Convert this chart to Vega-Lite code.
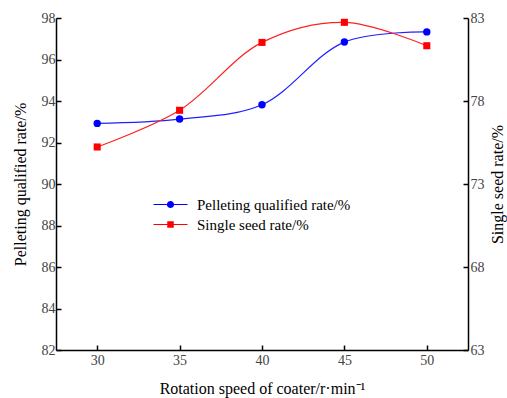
{
  "$schema": "https://vega.github.io/schema/vega-lite/v6.json",
  "width": 412,
  "height": 332,
  "autosize": "none",
  "padding": {"left": 56, "top": 18, "right": 39, "bottom": 48},
  "background": "white",
  "config": {
    "view": {"stroke": null},
    "font": "Liberation Serif",
    "axis": {
      "grid": false,
      "domainColor": "#000000",
      "domainWidth": 1.5,
      "tickColor": "#000000",
      "tickWidth": 1.5,
      "tickSize": -5,
      "labelFont": "Liberation Serif",
      "labelFontSize": 14,
      "labelColor": "#444444",
      "titleFont": "Liberation Serif",
      "titleFontSize": 16,
      "titleFontWeight": "normal",
      "titleColor": "#000000"
    }
  },
  "data": {
    "values": [
      {"speed": 30, "series": "Pelleting qualified rate/%", "rate": 92.92},
      {"speed": 35, "series": "Pelleting qualified rate/%", "rate": 93.13},
      {"speed": 40, "series": "Pelleting qualified rate/%", "rate": 93.82},
      {"speed": 45, "series": "Pelleting qualified rate/%", "rate": 96.84},
      {"speed": 50, "series": "Pelleting qualified rate/%", "rate": 97.33},
      {"speed": 30, "series": "Single seed rate/%", "rate": 75.23},
      {"speed": 35, "series": "Single seed rate/%", "rate": 77.44},
      {"speed": 40, "series": "Single seed rate/%", "rate": 81.53},
      {"speed": 45, "series": "Single seed rate/%", "rate": 82.74},
      {"speed": 50, "series": "Single seed rate/%", "rate": 81.33}
    ]
  },
  "encoding": {
    "x": {
      "field": "speed",
      "type": "quantitative",
      "scale": {"domain": [27.5, 52.5], "nice": false, "zero": false},
      "axis": {
        "values": [30, 35, 40, 45, 50],
        "title": "Rotation speed of coater/r·min⁻¹",
        "labelPadding": 8,
        "titlePadding": 13
      }
    }
  },
  "layer": [
    {
      "transform": [{"filter": "datum.series === 'Pelleting qualified rate/%'"}],
      "encoding": {
        "y": {
          "field": "rate",
          "type": "quantitative",
          "scale": {"domain": [82, 98], "nice": false, "zero": false},
          "axis": {
            "orient": "left",
            "values": [82, 84, 86, 88, 90, 92, 94, 96, 98],
            "title": "Pelleting qualified rate/%",
            "labelPadding": 6,
            "titlePadding": 13
          }
        }
      },
      "layer": [
        {"mark": {"type": "line", "interpolate": "catmull-rom", "color": "#2020ff", "strokeWidth": 1.2}},
        {"mark": {"type": "point", "filled": true, "shape": "circle", "size": 55, "color": "#0000ff", "opacity": 1}}
      ]
    },
    {
      "transform": [{"filter": "datum.series === 'Single seed rate/%'"}],
      "encoding": {
        "y": {
          "field": "rate",
          "type": "quantitative",
          "scale": {"domain": [63, 83], "nice": false, "zero": false},
          "axis": {
            "orient": "right",
            "values": [63, 68, 73, 78, 83],
            "title": "Single seed rate/%",
            "titleAngle": -90,
            "labelPadding": 7,
            "titlePadding": 21
          }
        }
      },
      "layer": [
        {"mark": {"type": "line", "interpolate": "catmull-rom", "color": "#ff2020", "strokeWidth": 1.2}},
        {"mark": {"type": "point", "filled": true, "shape": "square", "size": 50, "color": "#ff0000", "opacity": 1}}
      ]
    },
    {
      "mark": {"type": "point", "filled": true, "opacity": 0, "strokeWidth": 0},
      "encoding": {
        "y": {"field": "rate", "type": "quantitative", "axis": null, "scale": {"zero": false}},
        "fill": {
          "field": "series",
          "type": "nominal",
          "scale": {"domain": ["Pelleting qualified rate/%", "Single seed rate/%"], "range": ["#0000ff", "#ff0000"]},
          "legend": {
            "title": null,
            "orient": "none",
            "legendX": 107,
            "legendY": 179,
            "symbolSize": 100,
            "symbolOpacity": 1,
            "symbolStrokeWidth": 0,
            "labelFont": "Liberation Serif",
            "labelFontSize": 15,
            "labelColor": "#000000",
            "labelOffset": 19,
            "rowPadding": 4,
            "padding": 0
          }
        },
        "shape": {
          "field": "series",
          "type": "nominal",
          "scale": {
            "domain": ["Pelleting qualified rate/%", "Single seed rate/%"],
            "range": [
              "M-3.4,-0.1H-0.7V0.1H-3.4Z M0.7,-0.1H3.4V0.1H0.7Z M-0.72,0A0.72,0.72 0 1,0 0.72,0A0.72,0.72 0 1,0 -0.72,0Z",
              "M-3.4,-0.1H-0.65V0.1H-3.4Z M0.65,-0.1H3.4V0.1H0.65Z M-0.65,-0.65H0.65V0.65H-0.65Z"
            ]
          },
          "legend": {
            "title": null,
            "orient": "none",
            "legendX": 107,
            "legendY": 179,
            "symbolSize": 100,
            "symbolOpacity": 1,
            "symbolStrokeWidth": 0,
            "labelFont": "Liberation Serif",
            "labelFontSize": 15,
            "labelColor": "#000000",
            "labelOffset": 19,
            "rowPadding": 4,
            "padding": 0
          }
        }
      }
    }
  ],
  "resolve": {"scale": {"y": "independent"}}
}
